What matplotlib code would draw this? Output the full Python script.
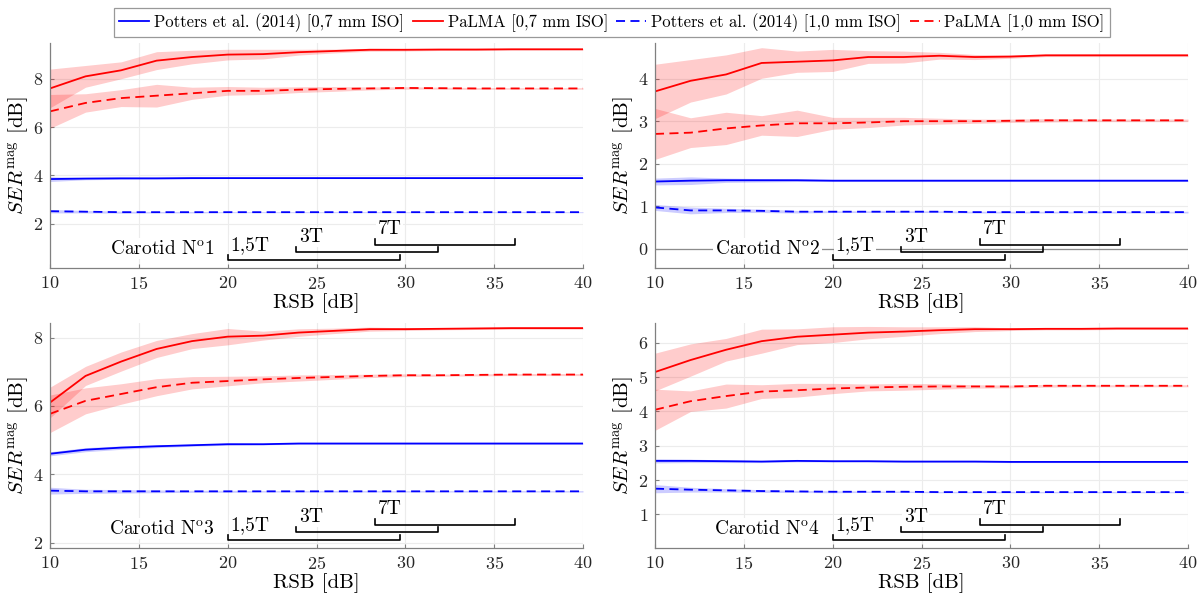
import matplotlib
matplotlib.use('Agg')
import matplotlib.pyplot as plt
import matplotlib.transforms as mtransforms
import numpy as np

plt.rcParams['font.family'] = 'serif'
plt.rcParams['font.serif'] = ['cmr10', 'DejaVu Serif']
plt.rcParams['mathtext.fontset'] = 'cm'
plt.rcParams['axes.formatter.use_mathtext'] = True
plt.rcParams['axes.unicode_minus'] = False

# RSB [dB]
rsb = [10, 12, 14, 16, 18, 20, 22, 24, 26, 28, 30, 32, 34, 36, 38, 40]

# ---- Carotid 1 ----
c1_pot07 = [3.85, 3.87, 3.88, 3.88, 3.89, 3.89, 3.89, 3.89, 3.89, 3.89, 3.89, 3.89, 3.89, 3.89, 3.89, 3.89]
c1_pot07_sd = [0.10, 0.05, 0.04, 0.03, 0.03, 0.02, 0.02, 0.02, 0.02, 0.02, 0.02, 0.02, 0.02, 0.02, 0.02, 0.02]
c1_pal07 = [7.6, 8.1, 8.35, 8.75, 8.9, 9.0, 9.02, 9.1, 9.15, 9.2, 9.2, 9.21, 9.21, 9.22, 9.22, 9.22]
c1_pal07_sd = [0.8, 0.45, 0.35, 0.37, 0.28, 0.22, 0.2, 0.12, 0.08, 0.06, 0.05, 0.04, 0.04, 0.03, 0.03, 0.03]
c1_pot10 = [2.52, 2.5, 2.48, 2.48, 2.48, 2.48, 2.48, 2.48, 2.48, 2.48, 2.48, 2.48, 2.48, 2.48, 2.48, 2.48]
c1_pot10_sd = [0.07, 0.05, 0.04, 0.03, 0.03, 0.02, 0.02, 0.02, 0.02, 0.02, 0.02, 0.02, 0.02, 0.02, 0.02, 0.02]
c1_pal10 = [6.65, 7.0, 7.2, 7.3, 7.4, 7.5, 7.5, 7.55, 7.58, 7.6, 7.62, 7.61, 7.6, 7.6, 7.6, 7.6]
c1_pal10_sd = [0.7, 0.38, 0.35, 0.47, 0.25, 0.18, 0.15, 0.12, 0.1, 0.06, 0.05, 0.04, 0.04, 0.03, 0.03, 0.03]

# ---- Carotid 2 ----
c2_pot07 = [1.58, 1.6, 1.61, 1.61, 1.61, 1.6, 1.6, 1.6, 1.6, 1.6, 1.6, 1.6, 1.6, 1.6, 1.6, 1.6]
c2_pot07_sd = [0.08, 0.09, 0.05, 0.04, 0.03, 0.02, 0.02, 0.02, 0.02, 0.02, 0.02, 0.02, 0.02, 0.02, 0.02, 0.02]
c2_pal07 = [3.7, 3.95, 4.1, 4.37, 4.4, 4.43, 4.51, 4.51, 4.54, 4.51, 4.52, 4.55, 4.55, 4.55, 4.55, 4.55]
c2_pal07_sd = [0.64, 0.5, 0.46, 0.36, 0.25, 0.26, 0.15, 0.14, 0.08, 0.06, 0.04, 0.03, 0.03, 0.03, 0.03, 0.03]
c2_pot10 = [0.97, 0.9, 0.9, 0.89, 0.87, 0.87, 0.87, 0.87, 0.87, 0.86, 0.86, 0.86, 0.86, 0.86, 0.86, 0.86]
c2_pot10_sd = [0.07, 0.08, 0.05, 0.04, 0.03, 0.02, 0.02, 0.02, 0.02, 0.02, 0.02, 0.02, 0.02, 0.02, 0.02, 0.02]
c2_pal10 = [2.7, 2.73, 2.83, 2.9, 2.95, 2.95, 2.97, 3.0, 3.0, 3.0, 3.01, 3.02, 3.02, 3.02, 3.02, 3.02]
c2_pal10_sd = [0.6, 0.35, 0.38, 0.23, 0.31, 0.14, 0.12, 0.09, 0.07, 0.05, 0.04, 0.04, 0.03, 0.03, 0.03, 0.03]

# ---- Carotid 3 ----
c3_pot07 = [4.6, 4.72, 4.78, 4.82, 4.85, 4.88, 4.88, 4.9, 4.9, 4.9, 4.9, 4.9, 4.9, 4.9, 4.9, 4.9]
c3_pot07_sd = [0.06, 0.06, 0.05, 0.04, 0.03, 0.03, 0.02, 0.02, 0.02, 0.02, 0.02, 0.02, 0.02, 0.02, 0.02, 0.02]
c3_pal07 = [6.1, 6.88, 7.3, 7.67, 7.9, 8.03, 8.06, 8.15, 8.2, 8.25, 8.25, 8.26, 8.27, 8.28, 8.28, 8.28]
c3_pal07_sd = [0.45, 0.28, 0.28, 0.25, 0.22, 0.24, 0.13, 0.11, 0.08, 0.06, 0.04, 0.03, 0.03, 0.03, 0.03, 0.03]
c3_pot10 = [3.52, 3.5, 3.5, 3.5, 3.5, 3.5, 3.5, 3.5, 3.5, 3.5, 3.5, 3.5, 3.5, 3.5, 3.5, 3.5]
c3_pot10_sd = [0.1, 0.06, 0.05, 0.04, 0.03, 0.03, 0.02, 0.02, 0.02, 0.02, 0.02, 0.02, 0.02, 0.02, 0.02, 0.02]
c3_pal10 = [5.77, 6.15, 6.35, 6.55, 6.68, 6.73, 6.78, 6.82, 6.85, 6.88, 6.9, 6.9, 6.91, 6.92, 6.92, 6.92]
c3_pal10_sd = [0.55, 0.38, 0.3, 0.25, 0.18, 0.14, 0.1, 0.09, 0.07, 0.05, 0.04, 0.03, 0.03, 0.03, 0.03, 0.03]

# ---- Carotid 4 ----
c4_pot07 = [2.56, 2.56, 2.55, 2.54, 2.56, 2.55, 2.55, 2.54, 2.54, 2.54, 2.53, 2.53, 2.53, 2.53, 2.53, 2.53]
c4_pot07_sd = [0.06, 0.05, 0.04, 0.03, 0.03, 0.02, 0.02, 0.02, 0.02, 0.02, 0.02, 0.02, 0.02, 0.02, 0.02, 0.02]
c4_pal07 = [5.15, 5.5, 5.8, 6.05, 6.18, 6.24, 6.3, 6.33, 6.37, 6.4, 6.4, 6.41, 6.41, 6.42, 6.42, 6.42]
c4_pal07_sd = [0.55, 0.47, 0.33, 0.35, 0.23, 0.23, 0.18, 0.14, 0.1, 0.07, 0.04, 0.03, 0.03, 0.03, 0.03, 0.03]
c4_pot10 = [1.75, 1.72, 1.7, 1.68, 1.67, 1.66, 1.66, 1.66, 1.65, 1.65, 1.65, 1.65, 1.65, 1.65, 1.65, 1.65]
c4_pot10_sd = [0.12, 0.07, 0.05, 0.04, 0.03, 0.03, 0.02, 0.02, 0.02, 0.02, 0.02, 0.02, 0.02, 0.02, 0.02, 0.02]
c4_pal10 = [4.05, 4.3, 4.45, 4.58, 4.62, 4.67, 4.7, 4.72, 4.73, 4.73, 4.73, 4.75, 4.75, 4.75, 4.75, 4.75]
c4_pal10_sd = [0.6, 0.3, 0.35, 0.2, 0.2, 0.15, 0.1, 0.1, 0.08, 0.05, 0.04, 0.04, 0.03, 0.03, 0.03, 0.03]

# field ranges in RSB for each scanner
field_labels = ['1,5T', '3T', '7T']
field_start = [20.0, 23.85, 28.3]
field_end = [29.7, 31.85, 36.2]

panels = [
    dict(name='1', ylim=(0.17, 9.48), yticks=[2, 4, 6, 8],
         series=[(c1_pot07, c1_pot07_sd), (c1_pal07, c1_pal07_sd), (c1_pot10, c1_pot10_sd), (c1_pal10, c1_pal10_sd)]),
    dict(name='2', ylim=(-0.455, 4.84), yticks=[0, 1, 2, 3, 4], zero_line=True,
         series=[(c2_pot07, c2_pot07_sd), (c2_pal07, c2_pal07_sd), (c2_pot10, c2_pot10_sd), (c2_pal10, c2_pal10_sd)]),
    dict(name='3', ylim=(1.84, 8.43), yticks=[2, 4, 6, 8],
         series=[(c3_pot07, c3_pot07_sd), (c3_pal07, c3_pal07_sd), (c3_pot10, c3_pot10_sd), (c3_pal10, c3_pal10_sd)]),
    dict(name='4', ylim=(0.02, 6.58), yticks=[1, 2, 3, 4, 5, 6],
         series=[(c4_pot07, c4_pot07_sd), (c4_pal07, c4_pal07_sd), (c4_pot10, c4_pot10_sd), (c4_pal10, c4_pal10_sd)]),
]

labels = ['Potters et al. (2014) [0,7 mm ISO]', 'PaLMA [0,7 mm ISO]',
          'Potters et al. (2014) [1,0 mm ISO]', 'PaLMA [1,0 mm ISO]']
colors = ['#0000ff', '#ff0000', '#0000ff', '#ff0000']
styles = ['-', '-', '--', '--']

fig = plt.figure(figsize=(12, 6.01), dpi=100)
W, H = 1200, 601
boxes = [(50, 43, 583, 268), (655, 43, 1188, 268),
         (50, 323, 583, 548), (655, 323, 1188, 548)]

x = np.array(rsb)
handles = []
for p, (l, t, r, b) in zip(panels, boxes):
    ax = fig.add_axes([l / W, 1 - b / H, (r - l) / W, (b - t) / H])
    for spine in ['top', 'right']:
        ax.spines[spine].set_visible(False)
    for spine in ['bottom', 'left']:
        ax.spines[spine].set_color('#808080')
        ax.spines[spine].set_linewidth(0.9)
    ax.grid(True, color='#ececec', linewidth=0.8)
    ax.set_axisbelow(True)
    ax.tick_params(direction='in', length=3, color='#808080', labelsize=13,
                   labelcolor='#262626', pad=5)

    if p.get('zero_line'):
        ax.axhline(0, color='#8c8c8c', linewidth=0.9, zorder=1)

    for (m, sd), c, ls, lab in zip(p['series'], colors, styles, labels):
        m = np.array(m)
        sd = np.array(sd)
        ax.fill_between(x, m - sd, m + sd, color=c, alpha=0.2, linewidth=0)
        h, = ax.plot(x, m, color=c, linestyle=ls, linewidth=1.3, dashes=(5, 3) if ls == '--' else (None, None), label=lab)
        if p['name'] == '1':
            handles.append(h)

    ax.set_xlim(10, 40)
    ax.set_ylim(*p['ylim'])
    ax.set_xticks([10, 15, 20, 25, 30, 35, 40])
    ax.set_yticks(p['yticks'])
    ax.set_xlabel('RSB [dB]', fontsize=15, labelpad=1)
    ax.set_ylabel(r'$SER^{\mathrm{mag}}$ [dB]', fontsize=15, labelpad=2)

    # scanner field brackets
    trans = mtransforms.blended_transform_factory(ax.transData, ax.transAxes)
    bky = [0.035, 0.069, 0.104]
    lby = [0.10, 0.138, 0.175]
    for lab, x0, x1, yb, yl in zip(field_labels, field_start, field_end, bky, lby):
        ax.plot([x0, x0, x1, x1], [yb + 0.024, yb, yb, yb + 0.024], color='black',
                linewidth=1.2, transform=trans, clip_on=False, zorder=5)
        ax.text(x0 + 0.15, yl, lab, transform=trans, fontsize=14, va='center', ha='left',
                bbox=dict(facecolor='white', edgecolor='none', pad=1.0), zorder=4)
    ax.text(19.3, 0.086, r'Carotid N$^{\mathrm{o}}$' + p['name'], transform=trans, fontsize=14,
            va='center', ha='right', bbox=dict(facecolor='white', edgecolor='none', pad=1.0), zorder=4)

leg = fig.legend(handles=handles, loc='upper center', bbox_to_anchor=(0.51, 0.987), ncol=4,
                 fontsize=12, frameon=True, fancybox=False, edgecolor='#808080',
                 handlelength=1.8, handletextpad=0.3, columnspacing=0.5, borderpad=0.3,
                 borderaxespad=0)
leg.get_frame().set_linewidth(0.9)

fig.savefig('out.png', dpi=100, facecolor='white')
